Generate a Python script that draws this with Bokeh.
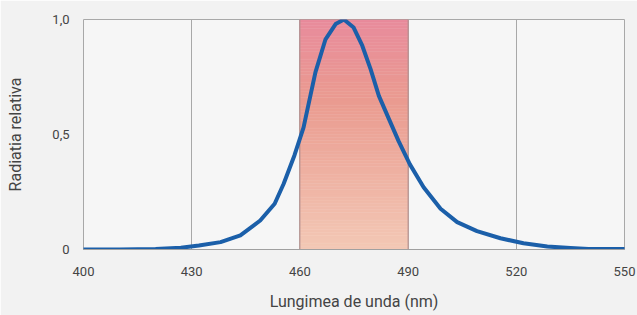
import numpy as np
from bokeh.plotting import figure
from bokeh.models import FixedTicker
from bokeh.embed import file_html
from bokeh.resources import INLINE

# Data
wavelength = [400, 410, 420, 427, 432, 438, 443.5, 449, 453, 455.5, 458.5, 461, 464.3, 467.1,
              469.9, 472.2, 474.9, 477.3, 479.6, 481.9, 484.7, 487.4, 490.5, 494.3, 499,
              503.6, 509.1, 515.6, 522, 528.6, 535, 540, 550]
radiance = [0.0, 0.0, 0.002, 0.008, 0.017, 0.032, 0.061, 0.126, 0.199, 0.286, 0.41, 0.53, 0.77, 0.914,
            0.98, 1.0, 0.965, 0.886, 0.784, 0.668, 0.567, 0.47, 0.37, 0.271, 0.177,
            0.119, 0.08, 0.049, 0.027, 0.013, 0.006, 0.002, 0.002]
band = (460, 490)
x_ticks = [400, 430, 460, 490, 520, 550]
y_ticks = [0, 0.5, 1.0]
y_tick_labels = {0: "0", 0.5: "0,5", 1: "1,0"}
x_label = "Lungimea de unda (nm)"
y_label = "Radiatia relativa"

FONT = "Roboto"
TXT = "#444444"

p = figure(width=637, height=315, output_backend="svg", toolbar_location=None,
           x_range=(400, 550), y_range=(0, 1.0),
           min_border_left=83, min_border_right=13, min_border_top=19, min_border_bottom=66)
p.background_fill_color = "#f6f6f6"
p.border_fill_color = "#f2f2f2"
p.outline_line_color = "#a8a8a8"
p.outline_line_width = 1

# gradient band
stops = [(0.0, (0xe8, 0x8b, 0x9c)), (0.35, (0xea, 0x9b, 0x90)), (1.0, (0xf3, 0xc8, 0xb5))]
def col(t):
    for (t0, c0), (t1, c1) in zip(stops[:-1], stops[1:]):
        if t <= t1:
            f = (t - t0) / (t1 - t0)
            return "#%02x%02x%02x" % tuple(int(round(a + (b - a) * f)) for a, b in zip(c0, c1))
    return "#%02x%02x%02x" % stops[-1][1]
N = 80
edges = np.linspace(0, 1, N + 1)
tops = edges[1:][::-1]
bottoms = edges[:-1][::-1]
colors = [col((1 - (t + b) / 2)) for t, b in zip(tops, bottoms)]
p.quad(left=band[0], right=band[1], top=tops, bottom=bottoms, fill_color=colors,
       line_color=colors, line_width=0.5)
p.quad(left=[band[0]], right=[band[1]], top=[1.0], bottom=[0], fill_color=None,
       line_color="#b49090", line_width=1)

p.line(wavelength, radiance, line_color="#1b5fa9", line_width=4, line_join="round", line_cap="round")

p.xaxis.ticker = FixedTicker(ticks=x_ticks)
p.yaxis.ticker = FixedTicker(ticks=y_ticks)
p.yaxis.major_label_overrides = y_tick_labels
p.xgrid.ticker = FixedTicker(ticks=x_ticks)
p.xgrid.grid_line_color = "#a8a8a8"
p.xgrid.grid_line_width = 1
p.ygrid.grid_line_color = None

for ax in (p.xaxis, p.yaxis):
    ax.axis_line_color = "#a0a0a0"
    ax.major_tick_line_color = None
    ax.minor_tick_line_color = None
    ax.major_label_text_font = FONT
    ax.major_label_text_font_size = "13px"
    ax.major_label_text_color = TXT
    ax.axis_label_text_font = FONT
    ax.axis_label_text_font_size = "16px"
    ax.axis_label_text_color = TXT
    ax.axis_label_text_font_style = "normal"
p.yaxis.axis_line_color = None
p.xaxis.major_label_standoff = 11
p.xaxis.axis_label = x_label
p.xaxis.axis_label_standoff = 13
p.yaxis.axis_label = y_label
p.yaxis.major_label_standoff = 8
p.yaxis.axis_label_standoff = 24

open("out.html", "w").write(file_html(p, INLINE))
